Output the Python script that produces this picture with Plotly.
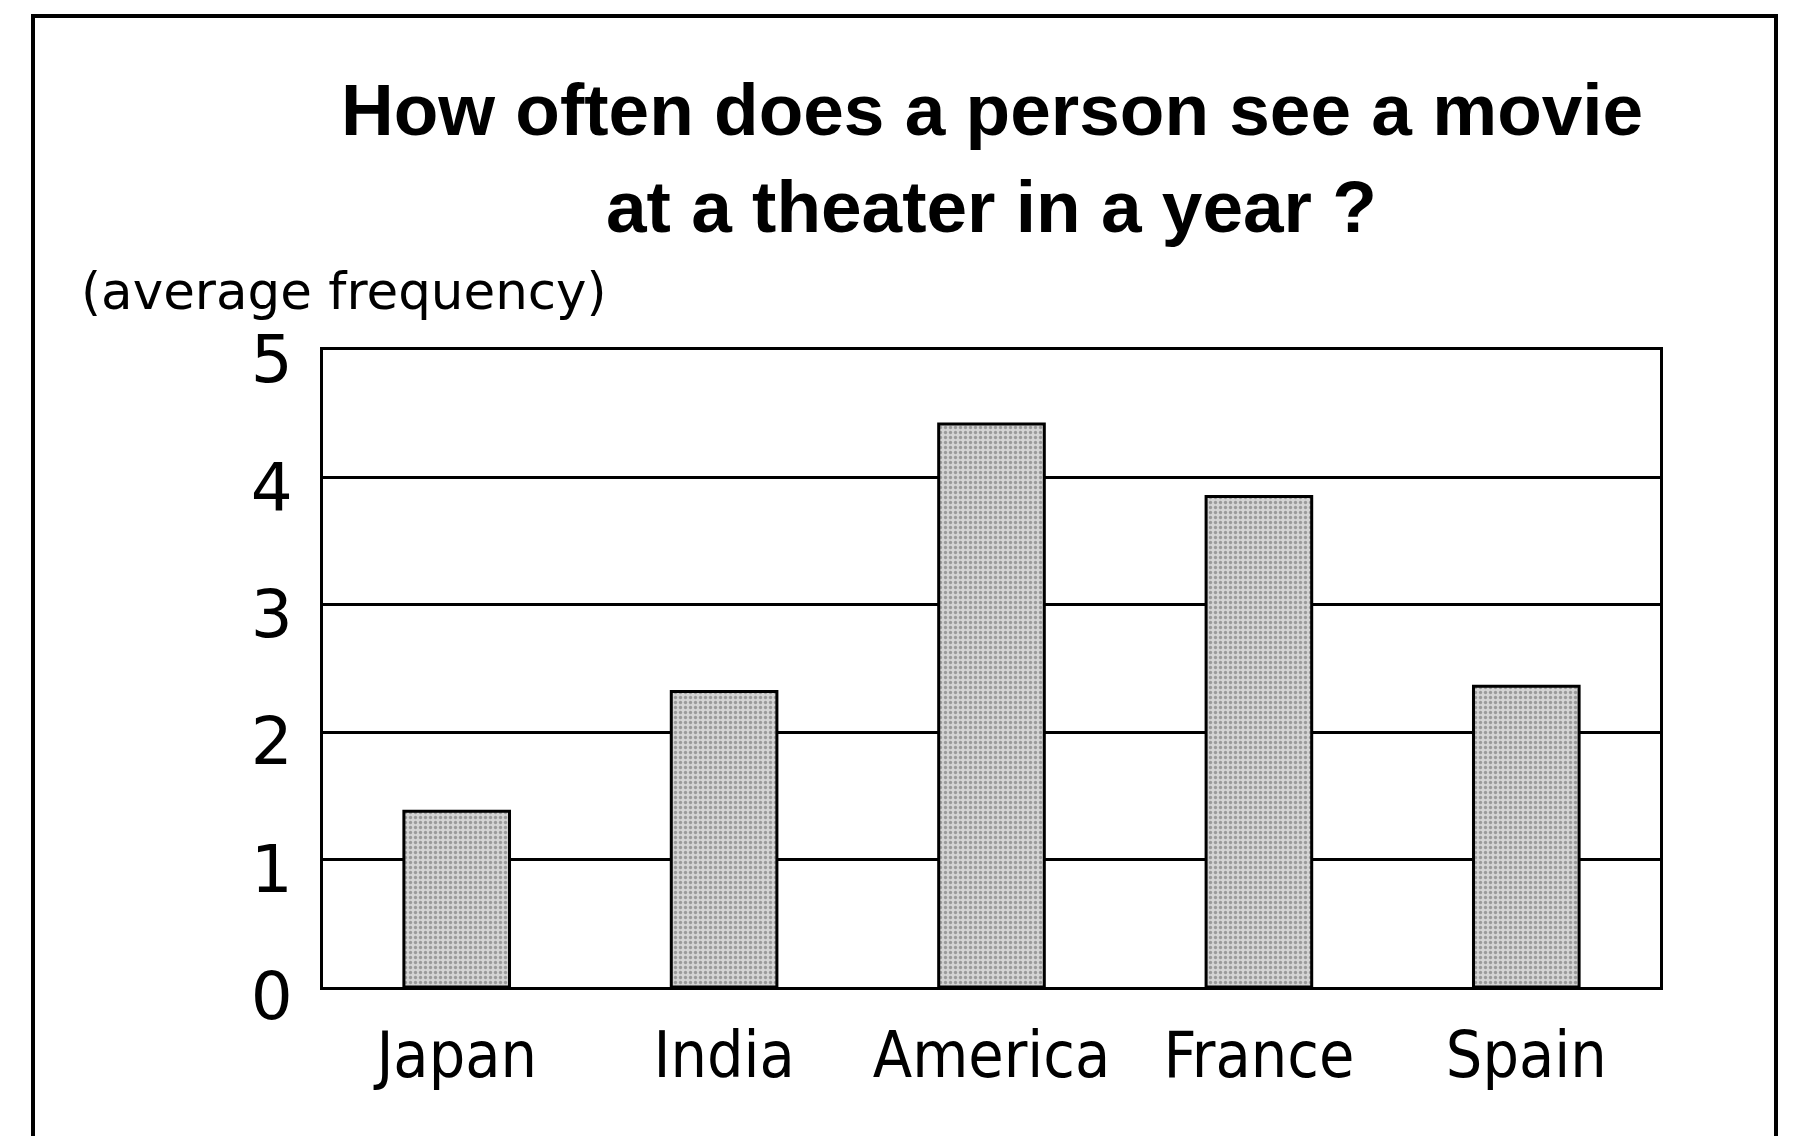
import plotly.graph_objects as go

countries = ["Japan", "India", "America", "France", "Spain"]
frequency = [1.38, 2.32, 4.42, 3.85, 2.36]
y_ticks = [0, 1, 2, 3, 4, 5]
title_lines = ["How often does a person see a movie", "at a theater in a year ?"]
y_unit_label = "(average frequency)"

W, H = 1820, 1136
OFF = 8  # page body margin
# target page coordinates of the plot area
PL, PR, PT, PB = 323, 1660, 350, 987
L, T = PL - OFF, PT - OFF
R, B = W - (PR - OFF), H - (PB - OFF)
pw, ph = W - L - R, H - T - B

def px_x(x):
    return (x - OFF - L) / pw

def px_y(y):
    return (H - B - (y - OFF)) / ph

fig = go.Figure(
    go.Bar(
        x=countries,
        y=frequency,
        marker=dict(
            color="#c8c8c8",
            line=dict(color="black", width=3),
            pattern=dict(shape=".", fgcolor="#606060", bgcolor="#d4d4d4", size=5, solidity=0.35),
        ),
        width=0.395,
    )
)

xtick_font = "DejaVu Sans Condensed, DejaVu Sans, Verdana, sans-serif"
ytick_font = "DejaVu Sans, Verdana, sans-serif"
title_font = dict(family="Liberation Sans, Arial, sans-serif", size=73, color="black", weight=700)

fig.update_layout(
    width=W,
    height=H,
    margin=dict(l=L, r=R, t=T, b=B, pad=0),
    paper_bgcolor="white",
    plot_bgcolor="white",
    showlegend=False,
    xaxis=dict(
        showgrid=False,
        showline=True,
        linecolor="black",
        linewidth=3,
        mirror=True,
        ticks="",
        tickfont=dict(family=xtick_font, size=64, color="black"),
        ticklabelstandoff=10,
    ),
    yaxis=dict(
        range=[0, 5],
        tickvals=y_ticks,
        ticktext=[str(v) for v in y_ticks],
        showgrid=True,
        gridcolor="black",
        gridwidth=3,
        showline=True,
        linecolor="black",
        linewidth=3,
        mirror=True,
        ticks="",
        zeroline=False,
        tickfont=dict(family=ytick_font, size=66, color="black"),
        ticklabelstandoff=14,
        ticklabelshift=9,
    ),
    annotations=[
        dict(
            text=title_lines[0],
            xref="paper", yref="paper",
            x=0.5, y=px_y(110),
            xanchor="center", yanchor="middle",
            showarrow=False,
            font=title_font,
        ),
        dict(
            text=title_lines[1],
            xref="paper", yref="paper",
            x=0.5, y=px_y(207),
            xanchor="center", yanchor="middle",
            showarrow=False,
            font=title_font,
        ),
        dict(
            text=y_unit_label,
            xref="paper", yref="paper",
            x=px_x(79), y=px_y(291),
            xanchor="left", yanchor="middle",
            showarrow=False,
            font=dict(family="DejaVu Sans, sans-serif", size=51.5, color="black"),
        ),
    ],
    shapes=[
        dict(
            type="rect", xref="paper", yref="paper",
            x0=px_x(33), x1=px_x(1776), y0=px_y(1170), y1=px_y(16),
            line=dict(color="black", width=4), fillcolor="rgba(0,0,0,0)",
            layer="below",
        )
    ],
)

fig.write_html("out.html")
